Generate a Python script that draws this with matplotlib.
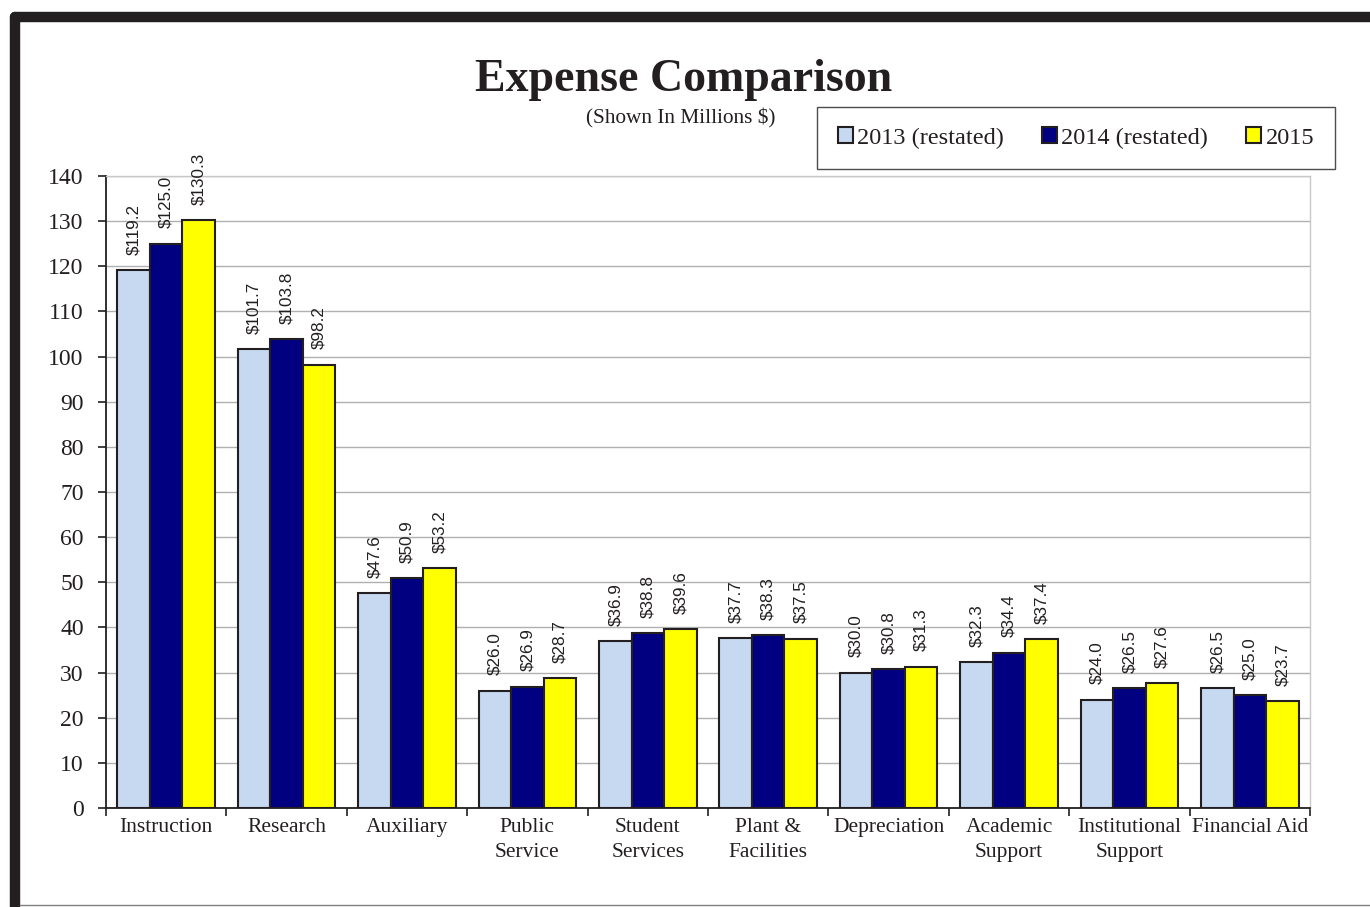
import numpy as np
import matplotlib.pyplot as plt
from matplotlib.lines import Line2D

# --- DADOS ---
categorias = ["Instruction", "Research", "Auxiliary", "Public\nService", "Student\nServices",
              "Plant &\nFacilities", "Depreciation", "Academic\nSupport", "Institutional\nSupport",
              "Financial Aid"]
anos = ["2013 (restated)", "2014 (restated)", "2015"]
v2013 = [119.2, 101.7, 47.6, 26.0, 36.9, 37.7, 30.0, 32.3, 24.0, 26.5]
v2014 = [125.0, 103.8, 50.9, 26.9, 38.8, 38.3, 30.8, 34.4, 26.5, 25.0]
v2015 = [130.3, 98.2, 53.2, 28.7, 39.6, 37.5, 31.3, 37.4, 27.6, 23.7]
y_ticks = list(range(0, 141, 10))

cores = ["#c6d9f1", "#000080", "#ffff00"]
escuro = "#231f20"
serif = ["Liberation Serif", "DejaVu Serif"]
sans = ["Liberation Sans", "DejaVu Sans"]

fig = plt.figure(figsize=(13.7, 9.07), dpi=100)
ax = fig.add_axes([106/1370, 1-808/907, (1310-106)/1370, (808-176)/907])

x = np.arange(len(categorias))
larg = 0.27
for k, (vals, cor, nome) in enumerate(zip([v2013, v2014, v2015], cores, anos)):
    barras = ax.bar(x + (k-1)*larg, vals, larg, color=cor, edgecolor=escuro, linewidth=1.5,
                    label=nome, zorder=3)
    for b, v in zip(barras, vals):
        ax.annotate(f"${v:.1f}", (b.get_x() + b.get_width()/2, v), xytext=(0, 11),
                    textcoords="offset points", rotation=90, ha="center", va="bottom",
                    fontsize=12.3, family=sans, color=escuro)

ax.set_xlim(-0.5, len(categorias)-0.5)
ax.set_ylim(0, 140)
ax.set_yticks(y_ticks)
ax.set_yticklabels([str(t) for t in y_ticks], family=serif, fontsize=17, color=escuro)
ax.set_xticks(x)
ax.set_xticklabels(categorias, family=serif, fontsize=15.5, color=escuro, linespacing=1.38)
ax.set_xticks(np.arange(-0.5, len(categorias), 1), minor=True)
ax.tick_params(axis="x", which="major", length=0, pad=7.5)
ax.tick_params(axis="x", which="minor", length=6, width=1.2, color=escuro, direction="out")
ax.tick_params(axis="y", length=6, width=1.2, color=escuro, direction="out", pad=10)
ax.grid(axis="y", color="#b0b0b0", linewidth=1, zorder=0)
for lado in ["left", "bottom"]:
    ax.spines[lado].set_color(escuro)
    ax.spines[lado].set_linewidth(1.3)
for lado in ["top", "right"]:
    ax.spines[lado].set_color("#c8c8c8")
    ax.spines[lado].set_linewidth(1)

# --- TITULOS ---
fig.text(684/1370, 1-80/907, "Expense Comparison", ha="center", va="center",
         fontsize=33, fontweight="bold", family=serif, color=escuro)
fig.text(681/1370, 1-118/907, "(Shown In Millions $)", ha="center", va="center",
         fontsize=15.3, family=serif, color=escuro)

# --- LEGENDA ---
leg = fig.legend(loc="center", bbox_to_anchor=(1076/1370, 1-138/907), ncol=3,
                 prop={"family": serif, "size": 17.5}, frameon=True, fancybox=False,
                 handlelength=0.6, handleheight=0.6, handletextpad=0.2, columnspacing=1.55,
                 borderpad=0.85, borderaxespad=0)
leg.get_frame().set_edgecolor(escuro)
leg.get_frame().set_linewidth(1)
for t in leg.get_texts():
    t.set_color(escuro)

# --- MOLDURA ---
fig.add_artist(Line2D([15/1370, 15/1370], [0, 1-17/907], color=escuro, linewidth=7.5,
                      solid_capstyle="round", transform=fig.transFigure))
fig.add_artist(Line2D([15/1370, 1], [1-17/907, 1-17/907], color=escuro, linewidth=7.5,
                      solid_capstyle="round", transform=fig.transFigure))
fig.add_artist(Line2D([20/1370, 1], [1-905/907, 1-905/907], color="#808080", linewidth=1,
                      transform=fig.transFigure))

fig.savefig("out.png", dpi=100)
